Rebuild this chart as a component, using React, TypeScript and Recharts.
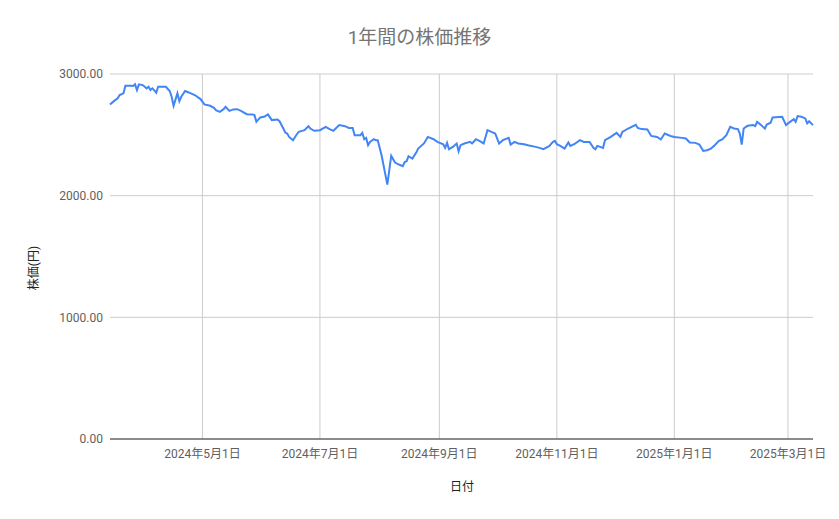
import { CartesianGrid, Line, LineChart, ReferenceLine, XAxis, YAxis } from 'recharts';

const dates = [
    '2024-03-14', '2024-03-16', '2024-03-18', '2024-03-19', '2024-03-21', '2024-03-22', '2024-03-25', '2024-03-26',
    '2024-03-27', '2024-03-28', '2024-03-29', '2024-03-31', '2024-04-02', '2024-04-03', '2024-04-04', '2024-04-05',
    '2024-04-06', '2024-04-07', '2024-04-08', '2024-04-12', '2024-04-14', '2024-04-15', '2024-04-16', '2024-04-18',
    '2024-04-19', '2024-04-20', '2024-04-22', '2024-04-23', '2024-04-25', '2024-04-27', '2024-04-30', '2024-05-02',
    '2024-05-05', '2024-05-07', '2024-05-08', '2024-05-10', '2024-05-12', '2024-05-13', '2024-05-15', '2024-05-17',
    '2024-05-19', '2024-05-21', '2024-05-24', '2024-05-27', '2024-05-28', '2024-05-29', '2024-05-31', '2024-06-02',
    '2024-06-04', '2024-06-06', '2024-06-09', '2024-06-10', '2024-06-12', '2024-06-13', '2024-06-14', '2024-06-15',
    '2024-06-17', '2024-06-19', '2024-06-20', '2024-06-23', '2024-06-25', '2024-06-26', '2024-06-28', '2024-07-01',
    '2024-07-04', '2024-07-06', '2024-07-08', '2024-07-11', '2024-07-14', '2024-07-16', '2024-07-18', '2024-07-19',
    '2024-07-22', '2024-07-23', '2024-07-24', '2024-07-25', '2024-07-26', '2024-07-27', '2024-07-29', '2024-07-30',
    '2024-07-31', '2024-08-02', '2024-08-05', '2024-08-07', '2024-08-09', '2024-08-11', '2024-08-13', '2024-08-14',
    '2024-08-15', '2024-08-16', '2024-08-18', '2024-08-20', '2024-08-21', '2024-08-24', '2024-08-26', '2024-08-29',
    '2024-08-31', '2024-09-03', '2024-09-04', '2024-09-05', '2024-09-06', '2024-09-08', '2024-09-10', '2024-09-11',
    '2024-09-12', '2024-09-14', '2024-09-17', '2024-09-18', '2024-09-20', '2024-09-22', '2024-09-24', '2024-09-26',
    '2024-09-28', '2024-09-30', '2024-10-02', '2024-10-04', '2024-10-07', '2024-10-08', '2024-10-10', '2024-10-12',
    '2024-10-15', '2024-10-17', '2024-10-21', '2024-10-23', '2024-10-25', '2024-10-28', '2024-10-30', '2024-10-31',
    '2024-11-01', '2024-11-03', '2024-11-05', '2024-11-07', '2024-11-08', '2024-11-10', '2024-11-13', '2024-11-15',
    '2024-11-18', '2024-11-20', '2024-11-21', '2024-11-22', '2024-11-25', '2024-11-26', '2024-11-29', '2024-12-02',
    '2024-12-04', '2024-12-05', '2024-12-08', '2024-12-12', '2024-12-13', '2024-12-15', '2024-12-18', '2024-12-20',
    '2024-12-23', '2024-12-25', '2024-12-27', '2024-12-30', '2025-01-01', '2025-01-05', '2025-01-07', '2025-01-09',
    '2025-01-12', '2025-01-14', '2025-01-16', '2025-01-18', '2025-01-20', '2025-01-22', '2025-01-24', '2025-01-26',
    '2025-01-28', '2025-01-29', '2025-01-30', '2025-02-01', '2025-02-03', '2025-02-04', '2025-02-05', '2025-02-06',
    '2025-02-08', '2025-02-11', '2025-02-12', '2025-02-13', '2025-02-15', '2025-02-17', '2025-02-18', '2025-02-20',
    '2025-02-21', '2025-02-26', '2025-02-28', '2025-03-01', '2025-03-04', '2025-03-05', '2025-03-06', '2025-03-08',
    '2025-03-10', '2025-03-11', '2025-03-12', '2025-03-14',
];

const prices = [
    2750, 2777, 2800, 2827, 2841, 2904, 2904, 2901,
    2915, 2868, 2915, 2909, 2882, 2895, 2868, 2882,
    2865, 2846, 2895, 2895, 2860, 2813, 2739, 2841,
    2777, 2813, 2860, 2854, 2841, 2827, 2794, 2750,
    2739, 2722, 2703, 2689, 2711, 2730, 2697, 2709,
    2711, 2697, 2670, 2668, 2662, 2607, 2643, 2648,
    2668, 2621, 2626, 2612, 2552, 2519, 2511, 2483,
    2456, 2505, 2524, 2538, 2571, 2552, 2533, 2538,
    2566, 2547, 2533, 2580, 2571, 2557, 2557, 2497,
    2497, 2516, 2464, 2475, 2415, 2442, 2464, 2456,
    2456, 2332, 2091, 2327, 2272, 2256, 2242, 2277,
    2283, 2324, 2305, 2354, 2387, 2429, 2483, 2464,
    2442, 2423, 2393, 2434, 2382, 2401, 2429, 2365,
    2415, 2429, 2442, 2429, 2464, 2448, 2429, 2538,
    2524, 2511, 2429, 2456, 2475, 2420, 2442, 2429,
    2423, 2415, 2401, 2393, 2382, 2407, 2442, 2450,
    2423, 2407, 2387, 2437, 2409, 2423, 2456, 2442,
    2442, 2393, 2382, 2409, 2393, 2456, 2483, 2516,
    2483, 2524, 2552, 2583, 2557, 2547, 2544, 2491,
    2483, 2462, 2511, 2491, 2483, 2475, 2470, 2437,
    2434, 2420, 2368, 2373, 2387, 2415, 2448, 2464,
    2497, 2530, 2566, 2552, 2547, 2511, 2420, 2552,
    2574, 2580, 2571, 2607, 2580, 2552, 2585, 2599,
    2643, 2648, 2580, 2594, 2629, 2607, 2654, 2648,
    2635, 2594, 2612, 2580,
];

const xTickDates = ['2024-05-01', '2024-07-01', '2024-09-01', '2024-11-01', '2025-01-01', '2025-03-01'];
const xDomainDates = ['2024-03-14', '2025-03-14'];
const yTicks = [0, 1000, 2000, 3000];

const FONT = "Roboto, 'Noto Sans CJK JP', sans-serif";

const data = dates.map((d, i) => ({ t: Date.parse(d), price: prices[i] }));
const xTicks = xTickDates.map((d) => Date.parse(d));

const formatDate = (t: number) => {
    const d = new Date(t);
    return `${d.getUTCFullYear()}年${d.getUTCMonth() + 1}月${d.getUTCDate()}日`;
};

export default function App() {
    return (
        <div style={{ position: 'absolute', left: 0, top: 0, width: 839, height: 519, background: '#fff', fontFamily: FONT }}>
            <div
                style={{
                    position: 'absolute',
                    top: 27,
                    left: 0,
                    width: 839,
                    textAlign: 'center',
                    fontSize: 19,
                    lineHeight: '22px',
                    color: '#757575',
                }}
            >
                1年間の株価推移
            </div>
            <LineChart width={839} height={519} data={data} margin={{ top: 74, right: 26, left: 0, bottom: 50 }}>
                <CartesianGrid stroke="#cccccc" strokeWidth={1} vertical={false} />
                {/* vertical grid only at the date ticks */}
                {xTicks.map((t) => (
                    <ReferenceLine key={t} x={t} stroke="#cccccc" strokeWidth={1} />
                ))}
                <XAxis
                    dataKey="t"
                    type="number"
                    scale="time"
                    domain={xDomainDates.map((d) => Date.parse(d))}
                    ticks={xTicks}
                    tickFormatter={formatDate}
                    height={30}
                    stroke="#333333"
                    tickLine={false}
                    tickSize={0}
                    tickMargin={10}
                    tick={{ fill: '#5f5f5f', fontSize: 12, fontFamily: FONT }}
                    label={{
                        content: () => (
                            <text x={462} y={487} textAnchor="middle" dominantBaseline="central" fontSize={12} fill="#222" fontFamily={FONT}>
                                日付
                            </text>
                        ),
                    }}
                />
                <YAxis
                    domain={[0, 3000]}
                    ticks={yTicks}
                    width={110}
                    axisLine={false}
                    tickLine={false}
                    tickSize={0}
                    tickMargin={7}
                    tickFormatter={(v: number) => v.toFixed(2)}
                    tick={{ fill: '#5f5f5f', fontSize: 12, fontFamily: FONT }}
                    label={{
                        content: () => (
                            <text
                                x={34}
                                y={268}
                                transform="rotate(-90 34 268)"
                                textAnchor="middle"
                                dominantBaseline="central"
                                fontSize={12}
                                fill="#222"
                                fontFamily={FONT}
                            >
                                株価(円)
                            </text>
                        ),
                    }}
                />
                <Line type="linear" dataKey="price" stroke="#4285f4" strokeWidth={2} dot={false} isAnimationActive={false} />
            </LineChart>
        </div>
    );
}
